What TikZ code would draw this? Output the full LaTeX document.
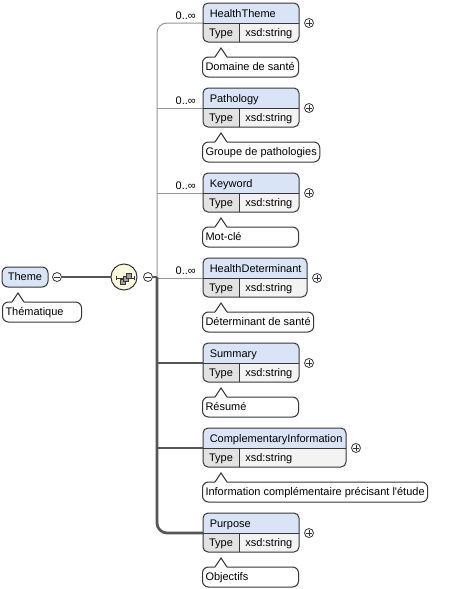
\documentclass[tikz,border=0pt]{standalone}
\usepackage{fontspec}
\setmainfont{Liberation Sans}
\usetikzlibrary{backgrounds}
\definecolor{hdr}{RGB}{217,229,247}
\definecolor{typec}{RGB}{226,226,226}
\definecolor{strc}{RGB}{243,243,243}
\definecolor{bord}{RGB}{55,55,55}
\definecolor{optl}{RGB}{150,150,150}
\definecolor{reql}{RGB}{85,85,85}
\definecolor{seqc}{RGB}{252,250,222}
\newcommand\cmtfit[2][67.5pt]{\setbox0\hbox{#2}\ifdim\wd0<#1\hbox to #1{\box0\hfil}\else\box0\fi}
\tikzset{
 every node/.style={font=\fontsize{8.25}{10}\selectfont, inner sep=0pt},
 boxline/.style={draw=bord, line width=0.75pt},
 optconn/.style={draw=optl, line width=0.75pt},
 reqconn/.style={draw=reql, line width=2pt},
 cmt/.style={draw=bord, line width=0.75pt, fill=white, rounded corners=4.5pt, inner xsep=2.25pt, minimum height=15pt, text height=6pt, text depth=1pt, anchor=west},
 pmc/.style={draw=bord, line width=0.6pt, fill=white, circle, minimum size=6.75pt},
 plusc/.style={pmc, path picture={\draw[line width=0.6pt] ([xshift=-1.9pt]path picture bounding box.center) -- ([xshift=1.9pt]path picture bounding box.center) ([yshift=-1.9pt]path picture bounding box.center) -- ([yshift=1.9pt]path picture bounding box.center);}},
 minusc/.style={pmc, path picture={\draw[line width=0.6pt] ([xshift=-1.9pt]path picture bounding box.center) -- ([xshift=1.9pt]path picture bounding box.center);}},
 mult/.style={anchor=base east},
 sqr/.style={fill=gray!75, draw=bord, line width=0.6pt},
}
% #1 name, #2 top, #3 right, #4 label, #5 comment
\newcommand\elem[5]{%
 \begin{scope}
  \clip[rounded corners=3.75pt] (203,#2) rectangle (#3,#2+39);
  \fill[hdr] (203,#2) rectangle (#3,#2+20);
  \fill[typec] (203,#2+20) rectangle (239,#2+39);
  \fill[strc] (239,#2+20) rectangle (#3,#2+39);
 \end{scope}
 \draw[boxline, rounded corners=3.75pt] (203,#2) rectangle (#3,#2+39);
 \draw[boxline] (203,#2+20) -- (#3,#2+20) (239,#2+20) -- (239,#2+39);
 \node[anchor=base west] (#1) at (209.5,#2+14) {#4};
 \node[anchor=base] (#1-t) at (221,#2+33.5) {Type};
 \node[anchor=base west] (#1-s) at (245,#2+33.5) {xsd:string};
 \coordinate (#1-in) at (203,#2+20);
 \node[plusc] (#1-p) at (#3+10,#2+20) {};
 \node[cmt] (#1-c) at (202,#2+64) {\cmtfit{#5}};
 \fill[white] (215,#2+54.8) -- (221,#2+45) -- (227,#2+54.8) -- cycle;
 \draw[boxline, line join=miter] (215,#2+54) -- (221,#2+45) -- (227,#2+54);
}
\begin{document}
\begin{tikzpicture}[x=0.75pt, y=-0.75pt]
\useasboundingbox (0,0) rectangle (449,589);
% root
\node[draw=bord, line width=0.75pt, fill=hdr, rounded corners=4.5pt, minimum width=34.5pt, minimum height=15pt, text height=6pt, text depth=1pt] (theme) at (25,277) {Theme};
\node[minusc] (theme-m) at (57,277) {};
\node[cmt] (theme-c) at (2,312) {\cmtfit[54.75pt]{Thématique}};
\fill[white] (12,302.8) -- (18,293) -- (24,302.8) -- cycle;
\draw[boxline, line join=miter] (12,302) -- (18,293) -- (24,302);
% sequence compositor
\node[circle, draw=bord, line width=0.75pt, fill=seqc, minimum size=19.5pt] (seq) at (124,277) {};
\draw[bord, line width=0.75pt] (116.5,278) -- (134,278) (116.5,276) -- (116.5,280) (134,276) -- (134,280);
\draw[sqr] (120.7,279.7) rectangle (125.7,284.7);
\draw[sqr] (123.3,276.5) rectangle (128.3,281.5);
\draw[sqr] (126.5,273.3) rectangle (131.5,278.3);
\node[minusc] (seq-m) at (148,277) {};
\coordinate (trunk) at (157,277);
% elements
\elem{ht}{3}{299}{HealthTheme}{Domaine de santé}
\elem{pa}{88}{299}{Pathology}{Groupe de pathologies}
\elem{kw}{173}{299}{Keyword}{Mot-clé}
\elem{hd}{258}{307}{HealthDeterminant}{Déterminant de santé}
\elem{su}{343}{299}{Summary}{Résumé}
\elem{ci}{428}{346}{ComplementaryInformation}{Information complémentaire précisant l\textquotesingle étude}
\elem{pu}{513}{299}{Purpose}{Objectifs}
% multiplicities
\node[mult] (ht-m) at (196,19.5) {0..∞};
\node[mult] (pa-m) at (196,104.5) {0..∞};
\node[mult] (kw-m) at (196,189.5) {0..∞};
\node[mult] (hd-m) at (196,274.5) {0..∞};
% connectors
\begin{pgfonlayer}{background}
\fill[white] (0,0) rectangle (449,589);
\draw[reqconn] (theme-m.east) -- (seq.west);
\draw[reqconn] (seq-m.east) -- (trunk);
\draw[optconn, rounded corners=7.5pt] (trunk) |- (ht-in);
\draw[optconn] (trunk |- pa-in) -- (pa-in);
\draw[optconn] (trunk |- kw-in) -- (kw-in);
\draw[optconn] (trunk |- hd-in) -- (hd-in);
\draw[reqconn, rounded corners=7.5pt] (trunk) |- (pu-in);
\draw[reqconn] (trunk |- su-in) -- (su-in);
\draw[reqconn] (trunk |- ci-in) -- (ci-in);
\end{pgfonlayer}
\end{tikzpicture}
\end{document}
